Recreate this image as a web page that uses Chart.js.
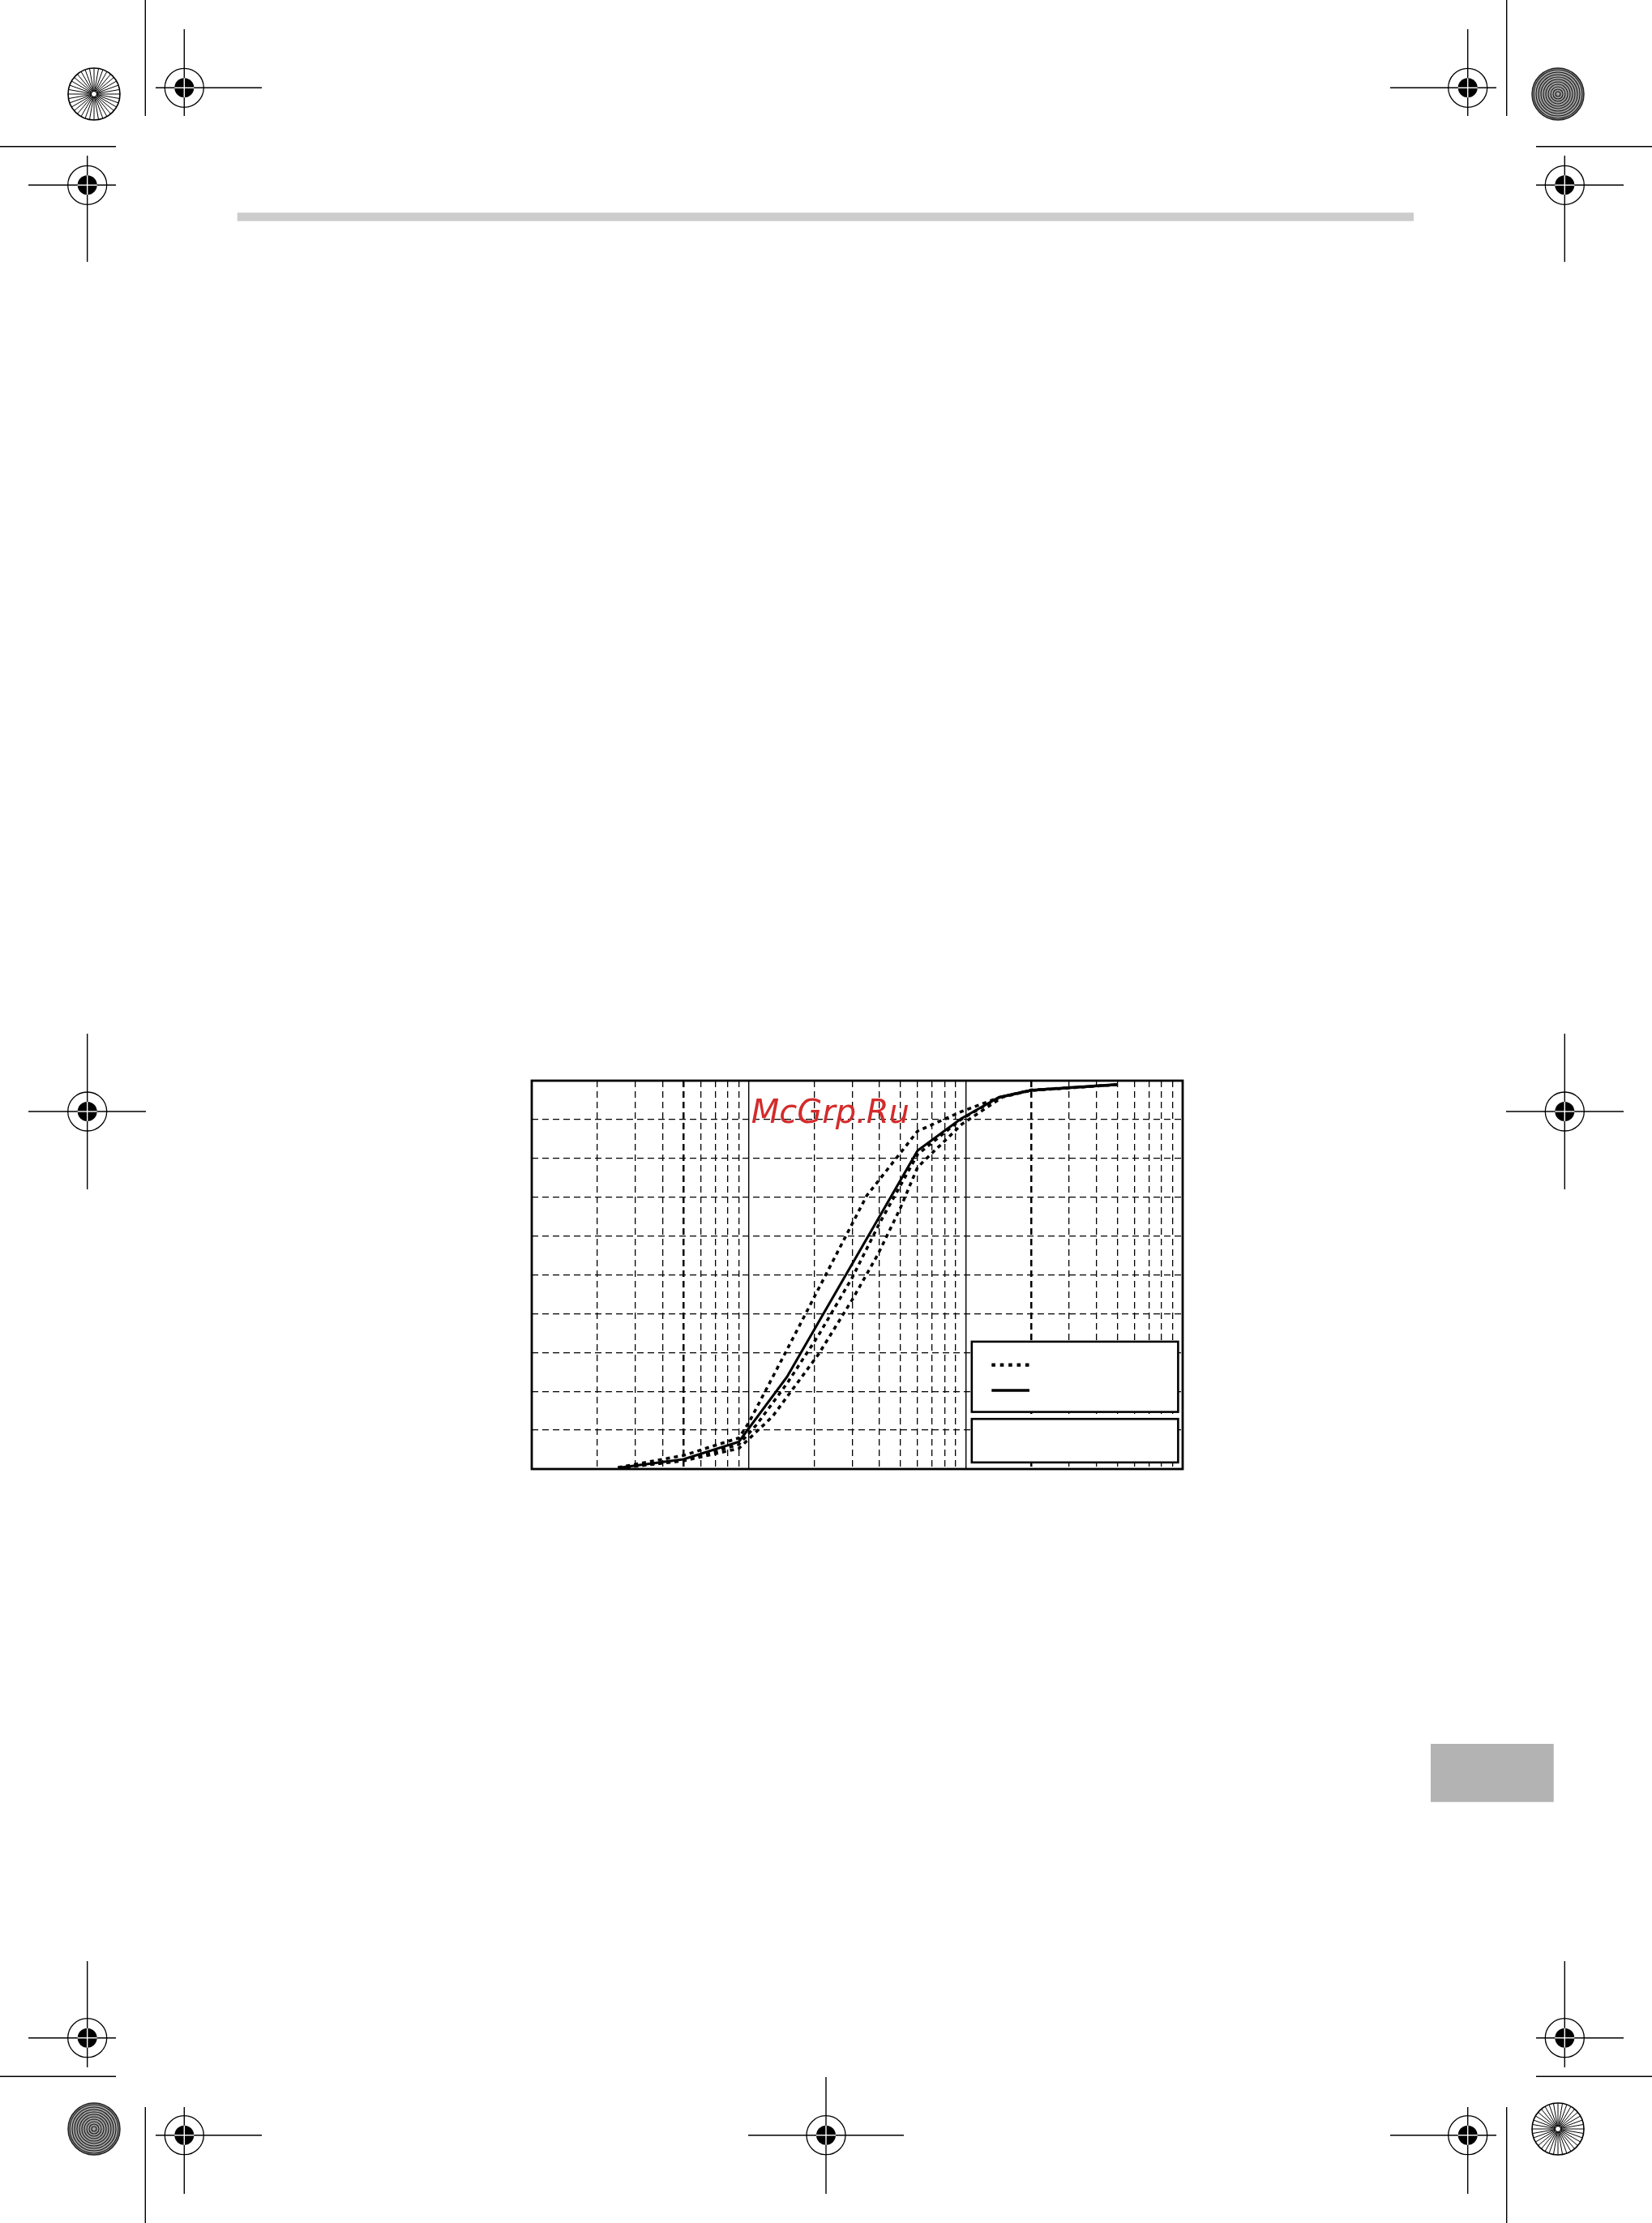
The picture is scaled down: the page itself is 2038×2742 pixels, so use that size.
<!DOCTYPE html>
<html>
<head>
<meta charset="utf-8">
<script src="https://cdn.jsdelivr.net/npm/chart.js@4.4.0/dist/chart.umd.min.js"></script>
<style>
  html, body { margin: 0; padding: 0; background: #fff; }
  body { width: 2038px; height: 2742px; position: relative; overflow: hidden; }
  #page { position: absolute; left: 0; top: 0; }
  #wrap { position: absolute; left: 650px; top: 1327px; width: 815px; height: 491px; }
</style>
</head>
<body>
<svg id="page" width="2038" height="2742" xmlns="http://www.w3.org/2000/svg"></svg>
<div id="wrap"><canvas id="grading_chart"></canvas></div>
<script>
// grading curve: particle size (mm, log axis) vs. passing (%)
var xTicks = [0.01, 0.02, 0.03, 0.04, 0.05, 0.06, 0.07, 0.08, 0.09,
              0.1, 0.2, 0.3, 0.4, 0.5, 0.6, 0.7, 0.8, 0.9,
              1, 2, 3, 4, 5, 6, 7, 8, 9, 10];
var yTicks = [0, 10, 20, 30, 40, 50, 60, 70, 80, 90, 100];

var sizeSolid = [0.025, 0.05, 0.09, 0.15, 0.6, 0.95, 1.43, 2, 5];
var passSolid = [0.3, 2.5, 7, 23.7, 82, 90.2, 95.8, 97.5, 99];

var sizeUpper = [0.025, 0.05, 0.09, 0.1, 0.15, 0.35, 0.6, 0.95, 1.43, 2, 5];
var passUpper = [0.4, 3.5, 8, 11.9, 30.7, 70.4, 87, 92, 95.7, 97.6, 99];

var sizeMid = [0.025, 0.05, 0.09, 0.109, 0.15, 0.21, 0.3, 0.4, 0.5, 0.6, 0.95, 1.43, 2, 5];
var passMid = [0.3, 2.3, 6.3, 11.5, 22, 34.5, 49.3, 63.2, 73, 81, 90, 95.7, 97.5, 99];

var sizeLower = [0.025, 0.05, 0.09, 0.1, 0.129, 0.21, 0.3, 0.395, 0.5, 0.6, 0.96, 1.48, 2, 5];
var passLower = [0.2, 2.1, 5.3, 7.7, 13.6, 29.6, 43.6, 55.4, 67.2, 77.7, 88.8, 95.8, 97.5, 99];

function pts(xs, ys) {
  return xs.map(function (x, i) { return { x: x, y: ys[i] }; });
}

// ---- page furniture (print marks) ----
var svg = document.getElementById('page');
var NS = 'http://www.w3.org/2000/svg';
function el(name, attrs) {
  var e = document.createElementNS(NS, name);
  for (var k in attrs) e.setAttribute(k, attrs[k]);
  svg.appendChild(e);
  return e;
}
function line(x1, y1, x2, y2, w, c) {
  el('line', { x1: x1, y1: y1, x2: x2, y2: y2, stroke: c || '#000', 'stroke-width': w || 1.4 });
}
function target(cx, cy, h1, h2, v1, v2) {
  line(h1, cy, h2, cy);
  line(cx, v1, cx, v2);
  el('circle', { cx: cx, cy: cy, r: 24, fill: 'none', stroke: '#000', 'stroke-width': 1.3 });
  el('circle', { cx: cx, cy: cy, r: 12, fill: '#000' });
  line(cx - 12, cy, cx + 12, cy, 1.4, '#fff');
  line(cx, cy - 12, cx, cy + 12, 1.4, '#fff');
}
function starburst(cx, cy) {
  el('circle', { cx: cx, cy: cy, r: 32, fill: '#fff', stroke: '#000', 'stroke-width': 1.6 });
  for (var i = 0; i < 36; i++) {
    var a = i * Math.PI / 18;
    line(cx + 3 * Math.cos(a), cy + 3 * Math.sin(a), cx + 32 * Math.cos(a), cy + 32 * Math.sin(a), 1.0);
  }
}
function rings(cx, cy) {
  el('circle', { cx: cx, cy: cy, r: 32, fill: '#a0a0a0', stroke: '#222', 'stroke-width': 1.5 });
  for (var r = 3; r < 32; r += 3) {
    el('circle', { cx: cx, cy: cy, r: r, fill: 'none', stroke: '#1a1a1a', 'stroke-width': 1.1 });
  }
}
// crop lines
line(179.3, 0, 179.3, 143); line(1858.7, 0, 1858.7, 143);
line(0, 180.7, 143, 180.7); line(1895, 180.7, 2038, 180.7);
line(0, 2561.3, 143, 2561.3); line(1895, 2561.3, 2038, 2561.3);
line(179.3, 2599, 179.3, 2742); line(1858.7, 2599, 1858.7, 2742);
// registration targets
target(227.3, 108.3, 192, 323, 36, 143);
target(107.7, 228.3, 35, 143, 192, 323);
target(1810.7, 108.3, 1715, 1846, 36, 143);
target(1930.3, 228.3, 1895, 2003, 192, 323);
target(107.7, 1371, 35, 180, 1275, 1467);
target(1930.3, 1371, 1858, 2003, 1275, 1467);
target(107.7, 2513.7, 35, 143, 2419, 2550);
target(227.3, 2633.7, 192, 323, 2599, 2706);
target(1019, 2633.7, 923, 1115, 2562, 2706);
target(1810.7, 2633.7, 1715, 1846, 2599, 2706);
target(1930.3, 2513.7, 1895, 2003, 2419, 2550);
starburst(116, 116); starburst(1922, 2626);
rings(1922, 116); rings(116, 2626);
// header bar and page tab
el('rect', { x: 292.7, y: 262.3, width: 1451.3, height: 10.4, fill: '#cccccc' });
el('rect', { x: 1765, y: 2151, width: 151.7, height: 71.7, fill: '#b3b3b3' });

// ---- chart ----
function isDecade(v) { return Math.abs(Math.log10(v) - Math.round(Math.log10(v))) < 1e-6; }
function isHeavy(v) { return Math.abs(v - 0.05) < 1e-6 || Math.abs(v - 2) < 1e-6; }

var frameAndLegend = {
  id: 'frameAndLegend',
  afterDatasetsDraw: function (chart) {
    var ctx = chart.ctx, a = chart.chartArea;
    var W = a.right - a.left, H = a.bottom - a.top;
    ctx.save();
    ctx.lineWidth = 2.6;
    ctx.strokeStyle = '#000';
    ctx.fillStyle = '#fff';
    // legend boxes inside the plot, lower right
    var bx = a.left + 0.676 * W, bw = 0.317 * W;
    var b1 = [a.top + 0.672 * H, 0.181 * H];
    var b2 = [a.top + 0.871 * H, 0.112 * H];
    [b1, b2].forEach(function (b) {
      ctx.fillRect(bx, b[0], bw, b[1]);
      ctx.strokeRect(bx, b[0], bw, b[1]);
    });
    // samples: dotted limits, solid curve
    var sx1 = a.left + 0.7065 * W, sx2 = a.left + 0.7646 * W;
    var dsDot = chart.data.datasets[1], dsSolid = chart.data.datasets[0];
    ctx.setLineDash([4.6, 5.8]);
    ctx.lineWidth = 4.4;
    ctx.beginPath(); ctx.moveTo(sx1, a.top + 0.732 * H); ctx.lineTo(sx2, a.top + 0.732 * H);
    ctx.strokeStyle = dsDot.borderColor; ctx.stroke();
    ctx.setLineDash([]);
    ctx.lineWidth = 3.3;
    ctx.beginPath(); ctx.moveTo(sx1, a.top + 0.7975 * H); ctx.lineTo(sx2, a.top + 0.7975 * H);
    ctx.strokeStyle = dsSolid.borderColor; ctx.stroke();
    // plot frame
    ctx.lineWidth = 2.8;
    ctx.strokeRect(a.left, a.top, W, H);
    // watermark
    ctx.font = 'italic 40px "DejaVu Sans"';
    ctx.fillStyle = '#d42b2b';
    ctx.textBaseline = 'alphabetic';
    ctx.fillText('McGrp.Ru', a.left + 270.7, a.top + 52);
    ctx.restore();
  }
};

var ctx = document.getElementById('grading_chart').getContext('2d');
var gradingChart = new Chart(ctx, {
  type: 'line',
  data: {
    datasets: [
      { label: 'curve', data: pts(sizeSolid, passSolid), borderColor: '#000', borderWidth: 3.1 },
      { label: 'upper limit', data: pts(sizeUpper, passUpper), borderColor: '#000', borderWidth: 3.5, borderDash: [5, 5] },
      { label: 'mid', data: pts(sizeMid, passMid), borderColor: '#000', borderWidth: 3.5, borderDash: [5, 5] },
      { label: 'lower limit', data: pts(sizeLower, passLower), borderColor: '#000', borderWidth: 3.5, borderDash: [5, 5] }
    ]
  },
  options: {
    responsive: true,
    maintainAspectRatio: false,
    animation: false,
    layout: { padding: 6 },
    elements: { point: { radius: 0 }, line: { tension: 0, fill: false } },
    plugins: {
      legend: { display: false },
      tooltip: { enabled: false },
      title: { display: false }
    },
    scales: {
      x: {
        type: 'logarithmic',
        min: 0.01,
        max: 10,
        afterBuildTicks: function (scale) {
          scale.ticks = xTicks.map(function (v) { return { value: v }; });
        },
        ticks: { display: false },
        border: {
          display: false,
          dash: function (c) { return (c.tick && isDecade(c.tick.value)) ? [] : [8, 5]; }
        },
        grid: {
          drawTicks: false,
          color: '#000',
          lineWidth: function (c) {
            if (!c.tick) return 1.3;
            if (isHeavy(c.tick.value)) return 2.5;
            if (isDecade(c.tick.value)) return 1.4;
            return 1.3;
          }
        }
      },
      y: {
        min: 0,
        max: 100,
        afterBuildTicks: function (scale) {
          scale.ticks = yTicks.map(function (v) { return { value: v }; });
        },
        ticks: { display: false },
        border: { display: false, dash: [8, 5] },
        grid: { drawTicks: false, color: '#000', lineWidth: 1.3 }
      }
    }
  },
  plugins: [frameAndLegend]
});
</script>
</body>
</html>
